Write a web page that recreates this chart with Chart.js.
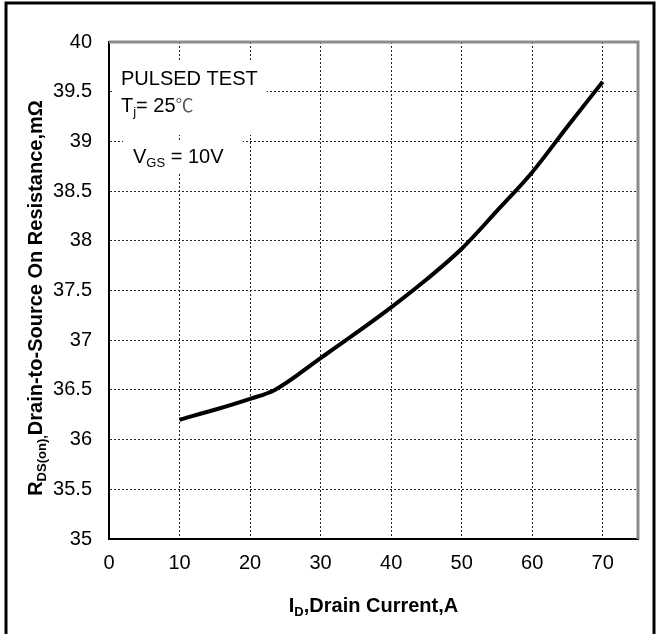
<!DOCTYPE html>
<html>
<head>
<meta charset="utf-8">
<script src="https://cdn.jsdelivr.net/npm/chart.js@4.4.1/dist/chart.umd.min.js"></script>
<style>
  html, body { margin: 0; padding: 0; background: #fff; }
  #wrap { width: 659px; height: 634px; position: relative; }
</style>
</head>
<body>
<div id="wrap"><canvas id="rds-chart"></canvas></div>
<script>
const FONT = '"Liberation Sans", Arial, sans-serif';

// drain current, A
const currentA = [10, 15, 20, 23.5, 30, 35, 40, 45, 50, 55, 60, 65, 70];
// on resistance, mOhm
const rdsOn = [36.2, 36.3, 36.41, 36.5, 36.82, 37.07, 37.33, 37.61, 37.92, 38.3, 38.69, 39.15, 39.6];

const xTicks = [0, 10, 20, 30, 40, 50, 60, 70];
const yTicks = [35, 35.5, 36, 36.5, 37, 37.5, 38, 38.5, 39, 39.5, 40];

// draws text made of parts, some of them subscript
function drawRich(ctx, parts, x, y, align) {
  let w = 0;
  parts.forEach(p => { ctx.font = p.font; w += ctx.measureText(p.t).width; });
  let cx = align === 'center' ? x - w / 2 : x;
  parts.forEach(p => {
    ctx.font = p.font;
    ctx.fillStyle = p.color || '#000';
    ctx.fillText(p.t, cx, y + (p.dy || 0));
    cx += ctx.measureText(p.t).width;
  });
}

const decor = {
  id: 'decor',
  afterDraw(chart) {
    const ctx = chart.ctx;
    const a = chart.chartArea;
    ctx.save();

    // gray top and right frame of the plot
    ctx.strokeStyle = '#8c8c8c';
    ctx.lineWidth = 3;
    ctx.beginPath();
    ctx.moveTo(a.left, a.top);
    ctx.lineTo(a.right, a.top);
    ctx.lineTo(a.right, a.bottom);
    ctx.stroke();

    // outer border
    ctx.strokeStyle = '#000';
    ctx.lineWidth = 3;
    ctx.beginPath();
    ctx.moveTo(6, 634);
    ctx.lineTo(6, 3);
    ctx.lineTo(654, 3);
    ctx.lineTo(654, 634);
    ctx.stroke();

    // condition labels with white boxes
    ctx.fillStyle = '#fff';
    ctx.fillRect(113, 62, 154, 73);
    ctx.fillRect(123, 140, 120, 32);
    ctx.textBaseline = 'alphabetic';
    ctx.textAlign = 'left';
    const f = '20px ' + FONT;
    const fs = '13px ' + FONT;
    drawRich(ctx, [{ t: 'PULSED TEST', font: f }], 121, 85, 'left');
    drawRich(ctx, [
      { t: 'T', font: f },
      { t: 'j', font: fs, dy: 4 },
      { t: '= 25', font: f },
      { t: '\u2103', font: '18px "Noto Sans CJK SC", ' + FONT, color: '#555' }
    ], 121, 112, 'left');
    drawRich(ctx, [
      { t: 'V', font: f },
      { t: 'GS', font: fs, dy: 4 },
      { t: ' = 10V', font: f }
    ], 133, 163, 'left');

    // axis titles
    const b = 'bold 20px ' + FONT;
    const bs = 'bold 13px ' + FONT;
    drawRich(ctx, [
      { t: 'I', font: b },
      { t: 'D', font: bs, dy: 4 },
      { t: ',Drain Current,A', font: b }
    ], (a.left + a.right) / 2, 612, 'center');

    ctx.translate(42, 298);
    ctx.rotate(-Math.PI / 2);
    drawRich(ctx, [
      { t: 'R', font: b },
      { t: 'DS(on),', font: bs, dy: 4 },
      { t: 'Drain-to-Source On Resistance,m\u03A9', font: b }
    ], 0, 0, 'center');
    ctx.restore();
  }
};

const gridStyle = {
  color: '#222',
  lineWidth: 1,
  drawTicks: false
};

new Chart(document.getElementById('rds-chart').getContext('2d'), {
  type: 'line',
  data: {
    datasets: [{
      data: currentA.map((x, i) => ({ x, y: rdsOn[i] })),
      borderColor: '#000',
      borderWidth: 4,
      pointRadius: 0,
      cubicInterpolationMode: 'monotone',
      fill: false
    }]
  },
  options: {
    responsive: true,
    maintainAspectRatio: false,
    animation: false,
    layout: { padding: { left: 0, top: 42, right: 21, bottom: 0 } },
    plugins: { legend: { display: false }, tooltip: { enabled: false } },
    scales: {
      x: {
        type: 'linear',
        min: 0,
        max: 75,
        afterBuildTicks: s => { s.ticks = xTicks.map(v => ({ value: v })); },
        afterFit: s => { s.height = 95; },
        grid: Object.assign({}, gridStyle),
        border: { display: true, color: '#000', width: 2, dash: [2, 2] },
        ticks: {
          color: '#000',
          padding: 12,
          font: { family: FONT, size: 20 },
          callback: v => String(v)
        }
      },
      y: {
        min: 35,
        max: 40,
        afterBuildTicks: s => { s.ticks = yTicks.map(v => ({ value: v })); },
        afterFit: s => { s.width = 109; },
        grid: Object.assign({}, gridStyle),
        border: { display: true, color: '#000', width: 2, dash: [2, 2] },
        ticks: {
          color: '#000',
          padding: 17,
          font: { family: FONT, size: 20 },
          callback: v => String(v)
        }
      }
    }
  },
  plugins: [decor]
});
</script>
</body>
</html>
